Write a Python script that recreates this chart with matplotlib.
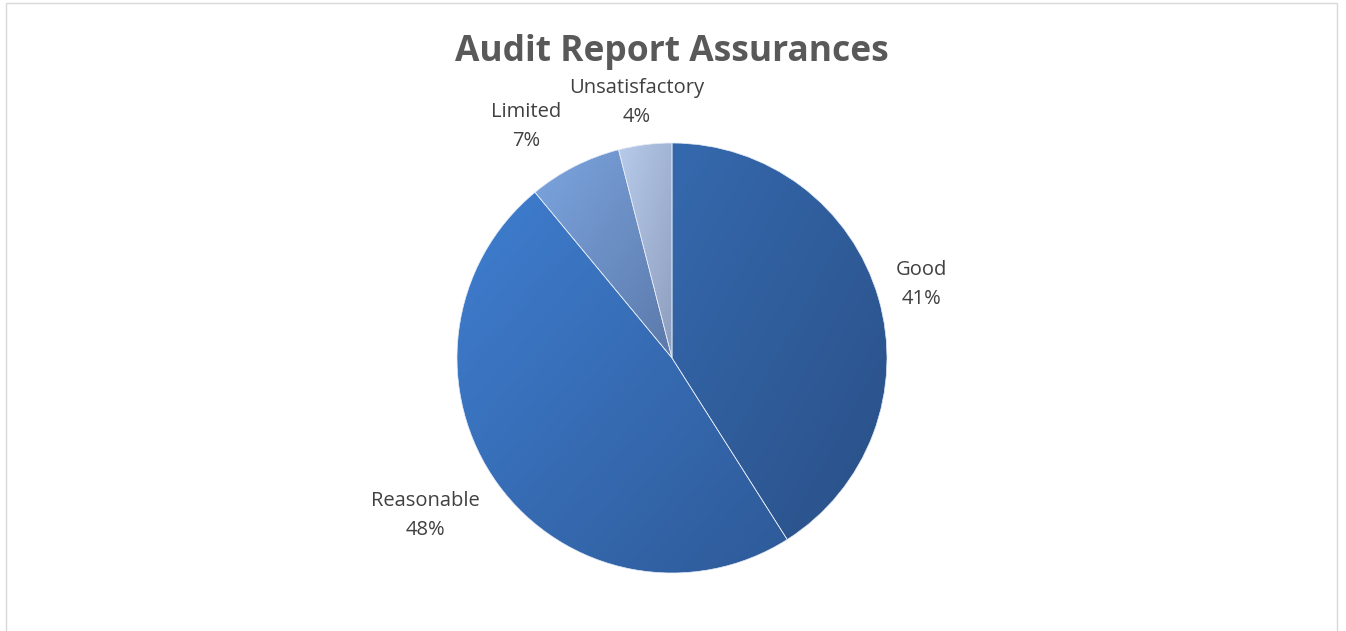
import numpy as np
import matplotlib
matplotlib.use("Agg")
import matplotlib.pyplot as plt
import matplotlib.colors as mcolors
from matplotlib.patches import Rectangle

# datos
categorias = ["Good", "Reasonable", "Limited", "Unsatisfactory"]
porcentajes = [41, 48, 7, 4]
titulo = "Audit Report Assurances"

# estilo: color claro (arriba-izquierda) y oscuro (abajo-derecha) de cada porción
colores_claros = ["#3569ae", "#3f7ed0", "#7ca5df", "#b8cbeb"]
colores_oscuros = ["#2a5087", "#2e5a98", "#5b79aa", "#8d9dbd"]
# posición de las etiquetas: distancia al centro y giro respecto a la bisectriz
dist_etiquetas = [1.21, 1.36, 1.27, 1.20]
giro_etiquetas = [0.2, -3.5, 5.2, 0.6]

plt.rcParams["font.family"] = ["Open Sans", "DejaVu Sans"]

W, H = 1346, 631
fig = plt.figure(figsize=(W / 100, H / 100), dpi=100)

# marco gris claro del gráfico
fig.patches.append(Rectangle((6 / W, -0.05), (1337 - 6) / W, 1.05 - 3 / H,
                             transform=fig.transFigure, fill=False,
                             edgecolor="#d9d9d9", linewidth=1.0))

cx, cy, r = 672, 358, 215
ax = fig.add_axes([(cx - r) / W, (H - cy - r) / H, 2 * r / W, 2 * r / H])

wedges, _ = ax.pie(porcentajes, startangle=90, counterclock=False,
                   colors=["none"] * 4, radius=1,
                   wedgeprops=dict(edgecolor="none"))

for i, w in enumerate(wedges):
    ext = w.get_path().get_extents()
    x0, y0, x1, y1 = ext.x0, ext.y0, ext.x1, ext.y1
    gx, gy = np.meshgrid(np.linspace(0, 1, 200), np.linspace(1, 0, 200))
    t = (gx + (1 - gy)) / 2.0
    cmap = mcolors.LinearSegmentedColormap.from_list(
        "g%d" % i, [colores_claros[i], colores_oscuros[i]])
    img = ax.imshow(t, cmap=cmap, vmin=0, vmax=1, extent=[x0, x1, y0, y1],
                    origin="upper", interpolation="bilinear", zorder=1)
    img.set_clip_path(w)
    w.set_zorder(2)
    w.set_edgecolor("#e4ebf6")
    w.set_linewidth(0.5)

    ang = np.deg2rad((w.theta1 + w.theta2) / 2.0 + giro_etiquetas[i])
    d = dist_etiquetas[i]
    ax.text(d * np.cos(ang), d * np.sin(ang),
            "%s\n%d%%" % (categorias[i], porcentajes[i]),
            ha="center", va="center", fontsize=14.5, color="#404040",
            linespacing=1.6)

ax.set_xlim(-1, 1)
ax.set_ylim(-1, 1)
ax.set_aspect("equal")
ax.axis("off")

fig.text(cx / W, 1 - 52 / H, titulo, ha="center", va="center",
         fontsize=25.5, fontweight="bold", color="#595959")

fig.savefig("out.png", dpi=100)
